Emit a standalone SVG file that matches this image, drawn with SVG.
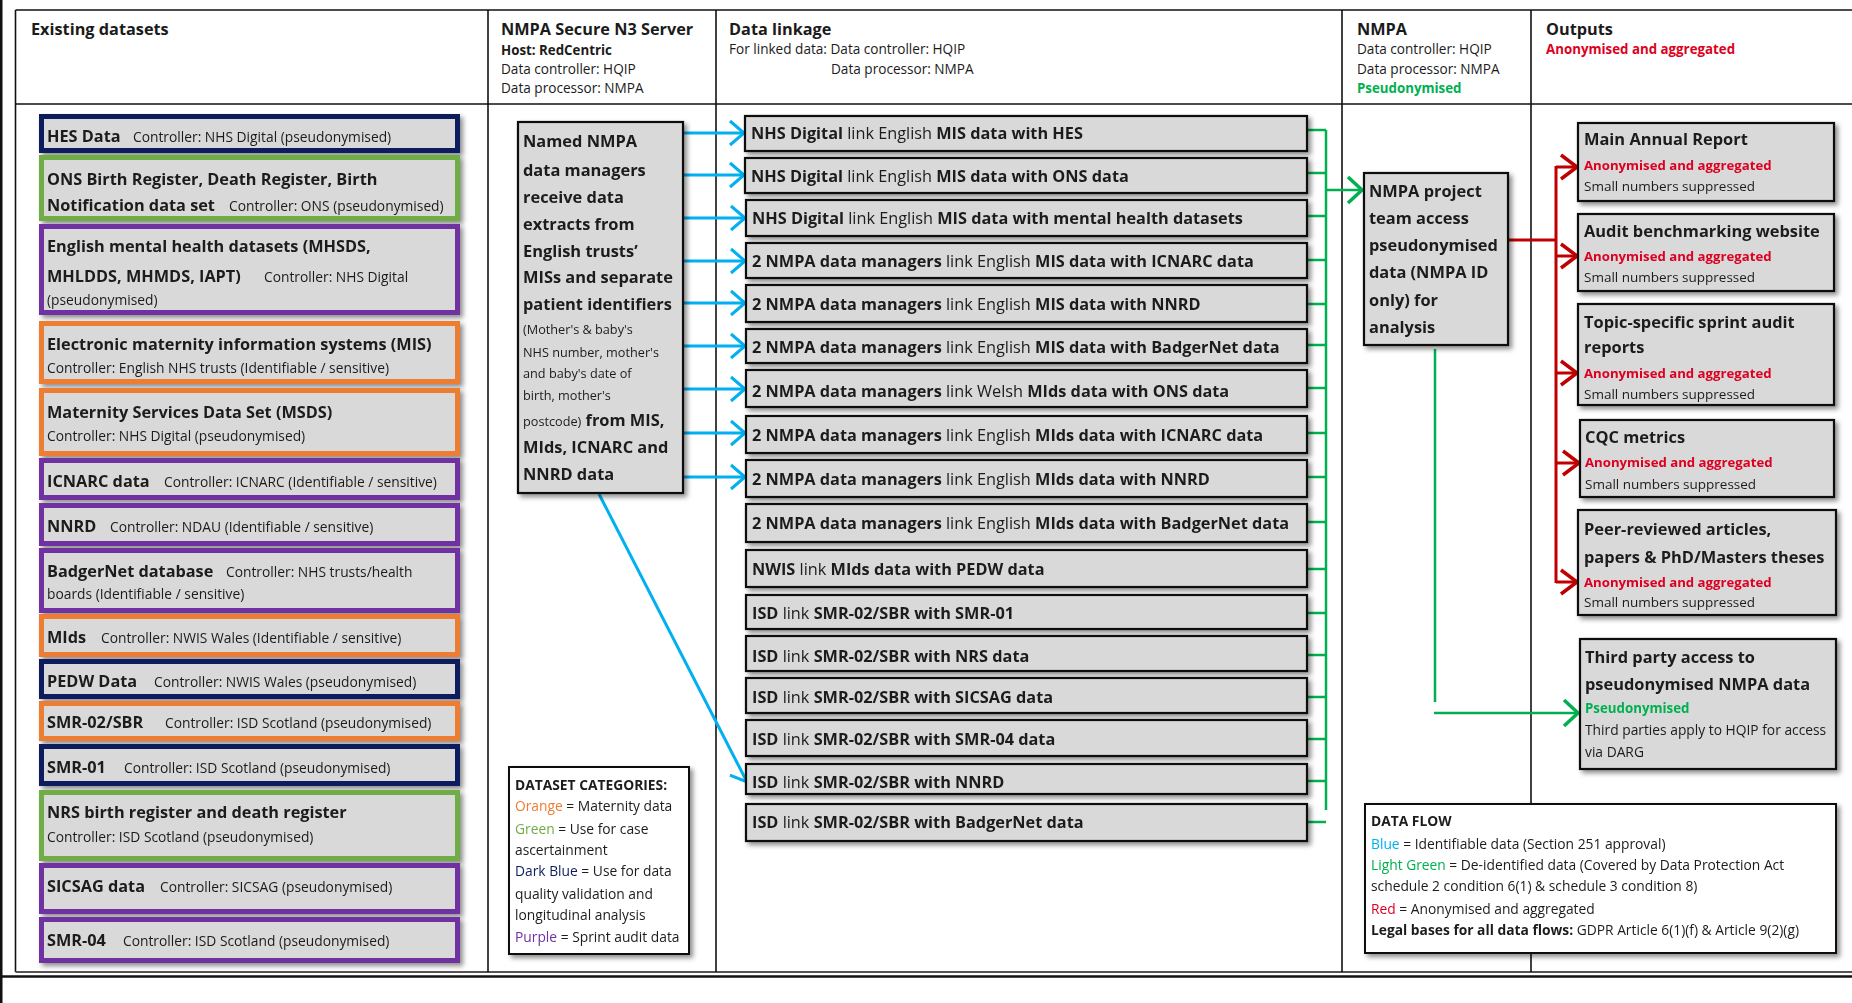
<svg xmlns="http://www.w3.org/2000/svg" width="1852" height="1003" viewBox="0 0 1852 1003">
<style>
text{font-family:"Open Sans","Liberation Sans",sans-serif;fill:#1b1b1b}
.h{font-size:16.3px;font-weight:bold}
.hs{font-size:13.6px}
.hsb{font-size:13.3px;font-weight:bold}
.b{font-weight:bold}
.t{font-size:16.3px;font-weight:bold}
.c{font-size:13.8px;font-weight:normal}
.lk{font-size:16.3px}
.nb{font-size:16.4px;font-weight:bold}
.ns{font-size:12.7px}
.ot{font-size:16.4px;font-weight:bold}
.or{font-size:13.2px;font-weight:bold;fill:#DD0020}
.og{font-size:13.3px;font-weight:bold;fill:#00B050}
.os{font-size:13.5px}
.lg{font-size:13.8px}
.red{fill:#DD0020}
.grn{fill:#00B050}
.ds{fill:#D9D9D9;stroke-width:5}
.nav{stroke:#0B1F5C}
.ogr{stroke:#70AD47}
.pur{stroke:#7030A0}
.orn{stroke:#ED7D31}
.gb{fill:#D9D9D9;stroke:#111;stroke-width:2.2}
.wb{fill:#fff;stroke:#111;stroke-width:2}
.frame{stroke:#111;stroke-width:1.6;fill:none}
.bl{stroke:#00B0F0;stroke-width:3;fill:none}
.gl{stroke:#00B050;stroke-width:2.5;fill:none}
.rl{stroke:#C00000;stroke-width:3;fill:none}
</style>
<defs>
<filter id="sh" x="-10%" y="-10%" width="130%" height="140%">
<feDropShadow dx="3" dy="3" stdDeviation="2.5" flood-color="#000" flood-opacity="0.45"/>
</filter>
<marker id="ab" markerUnits="userSpaceOnUse" markerWidth="20" markerHeight="30" refX="16" refY="14" orient="auto"><path d="M2,2 L16,14 L2,26" fill="none" stroke="#00B0F0" stroke-width="3"/></marker>
<marker id="ag" markerUnits="userSpaceOnUse" markerWidth="20" markerHeight="30" refX="16" refY="14" orient="auto"><path d="M2,1 L16,14 L2,27" fill="none" stroke="#00B050" stroke-width="3.5"/></marker>
<marker id="ar" markerUnits="userSpaceOnUse" markerWidth="22" markerHeight="30" refX="18" refY="14" orient="auto"><path d="M2,2 L18,14 L2,26" fill="none" stroke="#C00000" stroke-width="3.5"/></marker>
</defs>
<rect width="1852" height="1003" fill="#fff"/>

<g id="frame">
<rect x="0" y="0" width="2.5" height="1003" fill="#111"/>
<line class="frame" x1="15.5" y1="10" x2="1852" y2="10"/>
<line class="frame" x1="15.5" y1="10" x2="15.5" y2="972"/>
<line class="frame" x1="15.5" y1="104" x2="1852" y2="104"/>
<line x1="15.5" y1="972" x2="1852" y2="972" stroke="#555" stroke-width="2"/>
<line x1="0" y1="976.5" x2="1852" y2="976.5" stroke="#111" stroke-width="2.5"/>
<line class="frame" x1="488" y1="10" x2="488" y2="972"/>
<line class="frame" x1="716" y1="10" x2="716" y2="972"/>
<line class="frame" x1="1342" y1="10" x2="1342" y2="972"/>
<line class="frame" x1="1531" y1="10" x2="1531" y2="972"/>
</g>

<g id="headers">
<text x="31" y="35" class="h">Existing datasets</text>
<text x="501" y="35" class="h">NMPA Secure N3 Server</text>
<text x="501" y="55" class="hsb">Host: RedCentric</text>
<text x="501" y="74" class="hs">Data controller: HQIP</text>
<text x="501" y="93" class="hs">Data processor: NMPA</text>
<text x="729" y="35" class="h">Data linkage</text>
<text x="729" y="54" class="hs">For linked data: Data controller: HQIP</text>
<text x="831" y="74" class="hs">Data processor: NMPA</text>
<text x="1357" y="35" class="h">NMPA</text>
<text x="1357" y="54" class="hs">Data controller: HQIP</text>
<text x="1357" y="74" class="hs">Data processor: NMPA</text>
<text x="1357" y="93" class="hsb grn">Pseudonymised</text>
<text x="1546" y="35" class="h">Outputs</text>
<text x="1546" y="54" class="hsb red">Anonymised and aggregated</text>
</g>

<g id="connectors">
<line class="bl" x1="683" y1="133" x2="744" y2="133" marker-end="url(#ab)"/>
<line class="bl" x1="683" y1="175" x2="744" y2="175" marker-end="url(#ab)"/>
<line class="bl" x1="683" y1="218" x2="745" y2="218" marker-end="url(#ab)"/>
<line class="bl" x1="683" y1="261" x2="745" y2="261" marker-end="url(#ab)"/>
<line class="bl" x1="683" y1="303" x2="745" y2="303" marker-end="url(#ab)"/>
<line class="bl" x1="683" y1="346" x2="745" y2="346" marker-end="url(#ab)"/>
<line class="bl" x1="683" y1="389" x2="745" y2="389" marker-end="url(#ab)"/>
<line class="bl" x1="683" y1="433" x2="745" y2="433" marker-end="url(#ab)"/>
<line class="bl" x1="683" y1="477" x2="745" y2="477" marker-end="url(#ab)"/>
<line class="bl" x1="599" y1="494" x2="747" y2="782" marker-end="url(#ab)"/>
<path class="gl" d="M1326,130 V810 M1308,130 H1326 M1308,173 H1326 M1308,216 H1326 M1308,260 H1326 M1308,304 H1326 M1308,345 H1326 M1308,388 H1326 M1308,433 H1326 M1308,477 H1326 M1308,522 H1326 M1308,569 H1326 M1308,613 H1326 M1308,655 H1326 M1308,697 H1326 M1308,739 H1326 M1308,781 H1326 M1308,822 H1326"/>
<line class="gl" x1="1326" y1="190" x2="1362" y2="190" stroke-width="3" marker-end="url(#ag)"/>
<path class="rl" d="M1508,240 H1556 M1556,166 V583"/>
<line class="rl" x1="1556" y1="167" x2="1577" y2="167" stroke-width="2.5" marker-end="url(#ar)"/>
<line class="rl" x1="1556" y1="256" x2="1577" y2="256" stroke-width="2.5" marker-end="url(#ar)"/>
<line class="rl" x1="1556" y1="373" x2="1577" y2="373" stroke-width="2.5" marker-end="url(#ar)"/>
<line class="rl" x1="1556" y1="463" x2="1579" y2="463" stroke-width="2.5" marker-end="url(#ar)"/>
<line class="rl" x1="1556" y1="582" x2="1577" y2="582" stroke-width="2.5" marker-end="url(#ar)"/>
<line class="gl" x1="1435" y1="349" x2="1435" y2="702" stroke-width="3"/>
<line class="gl" x1="1434" y1="713" x2="1578" y2="713" stroke-width="3" marker-end="url(#ag)"/>
</g>

<g id="ds-hes" filter="url(#sh)"><rect class="ds nav" x="41.5" y="116.5" width="416" height="34"/>
<text x="47" y="142" class="t">HES Data<tspan x="133" class="c">Controller: NHS Digital (pseudonymised)</tspan></text></g>
<g id="ds-ons" filter="url(#sh)"><rect class="ds ogr" x="41.5" y="157.5" width="416" height="61"/>
<text x="47" y="185" class="t">ONS Birth Register, Death Register, Birth</text>
<text x="47" y="211" class="t">Notification data set<tspan x="229" class="c">Controller: ONS (pseudonymised)</tspan></text></g>
<g id="ds-mh" filter="url(#sh)"><rect class="ds pur" x="41.5" y="226.5" width="416" height="86"/>
<text x="47" y="252" class="t">English mental health datasets (MHSDS,</text>
<text x="47" y="282" class="t">MHLDDS, MHMDS, IAPT)<tspan x="264" class="c">Controller: NHS Digital</tspan></text>
<text x="47" y="305" class="c">(pseudonymised)</text></g>
<g id="ds-mis" filter="url(#sh)"><rect class="ds orn" x="41.5" y="323.5" width="416" height="58"/>
<text x="47" y="350" class="t">Electronic maternity information systems (MIS)</text>
<text x="47" y="373" class="c">Controller: English NHS trusts (Identifiable / sensitive)</text></g>
<g id="ds-msds" filter="url(#sh)"><rect class="ds orn" x="41.5" y="390.5" width="416" height="63"/>
<text x="47" y="418" class="t">Maternity Services Data Set (MSDS)</text>
<text x="47" y="441" class="c">Controller: NHS Digital (pseudonymised)</text></g>
<g id="ds-icnarc" filter="url(#sh)"><rect class="ds pur" x="41.5" y="460.5" width="416" height="37"/>
<text x="47" y="487" class="t">ICNARC data<tspan x="164" class="c">Controller: ICNARC (Identifiable / sensitive)</tspan></text></g>
<g id="ds-nnrd" filter="url(#sh)"><rect class="ds pur" x="41.5" y="505.5" width="416" height="38"/>
<text x="47" y="532" class="t">NNRD<tspan x="110" class="c">Controller: NDAU (Identifiable / sensitive)</tspan></text></g>
<g id="ds-badger" filter="url(#sh)"><rect class="ds pur" x="41.5" y="550.5" width="416" height="60"/>
<text x="47" y="577" class="t">BadgerNet database<tspan x="226" class="c">Controller: NHS trusts/health</tspan></text>
<text x="47" y="599" class="c">boards (Identifiable / sensitive)</text></g>
<g id="ds-mids" filter="url(#sh)"><rect class="ds orn" x="41.5" y="616.5" width="416" height="38"/>
<text x="47" y="643" class="t">MIds<tspan x="101" class="c">Controller: NWIS Wales (Identifiable / sensitive)</tspan></text></g>
<g id="ds-pedw" filter="url(#sh)"><rect class="ds nav" x="41.5" y="661.5" width="416" height="35"/>
<text x="47" y="687" class="t">PEDW Data<tspan x="154" class="c">Controller: NWIS Wales (pseudonymised)</tspan></text></g>
<g id="ds-smr02" filter="url(#sh)"><rect class="ds orn" x="41.5" y="703.5" width="416" height="35"/>
<text x="47" y="728" class="t">SMR-02/SBR<tspan x="165" class="c">Controller: ISD Scotland (pseudonymised)</tspan></text></g>
<g id="ds-smr01" filter="url(#sh)"><rect class="ds nav" x="41.5" y="746.5" width="416" height="37"/>
<text x="47" y="773" class="t">SMR-01<tspan x="124" class="c">Controller: ISD Scotland (pseudonymised)</tspan></text></g>
<g id="ds-nrs" filter="url(#sh)"><rect class="ds ogr" x="41.5" y="792.5" width="416" height="66"/>
<text x="47" y="818" class="t">NRS birth register and death register</text>
<text x="47" y="842" class="c">Controller: ISD Scotland (pseudonymised)</text></g>
<g id="ds-sicsag" filter="url(#sh)"><rect class="ds pur" x="41.5" y="865.5" width="416" height="46"/>
<text x="47" y="892" class="t">SICSAG data<tspan x="160" class="c">Controller: SICSAG (pseudonymised)</tspan></text></g>
<g id="ds-smr04" filter="url(#sh)"><rect class="ds pur" x="41.5" y="919.5" width="416" height="41"/>
<text x="47" y="946" class="t">SMR-04<tspan x="123" class="c">Controller: ISD Scotland (pseudonymised)</tspan></text></g>

<g id="named-managers" filter="url(#sh)"><rect class="gb" x="518" y="122" width="165" height="371"/>
<text x="523" y="147" class="nb">Named NMPA</text>
<text x="523" y="176" class="nb">data managers</text>
<text x="523" y="203" class="nb">receive data</text>
<text x="523" y="230" class="nb">extracts from</text>
<text x="523" y="257" class="nb">English trusts’</text>
<text x="523" y="283" class="nb">MISs and separate</text>
<text x="523" y="310" class="nb">patient identifiers</text>
<text x="523" y="334" class="ns">(Mother's &amp; baby's</text>
<text x="523" y="357" class="ns">NHS number, mother's</text>
<text x="523" y="378" class="ns">and baby's date of</text>
<text x="523" y="400" class="ns">birth, mother's</text>
<text x="523" y="426" class="ns">postcode)<tspan class="nb"> from MIS,</tspan></text>
<text x="523" y="453" class="nb">MIds, ICNARC and</text>
<text x="523" y="480" class="nb">NNRD data</text></g>

<g id="legend-categories" filter="url(#sh)"><rect class="wb" x="509" y="767" width="180" height="187"/>
<text x="515" y="790" class="lg b">DATASET CATEGORIES:</text>
<text x="515" y="811" class="lg"><tspan fill="#ED7D31">Orange</tspan> = Maternity data</text>
<text x="515" y="834" class="lg"><tspan fill="#70AD47">Green</tspan> = Use for case</text>
<text x="515" y="855" class="lg">ascertainment</text>
<text x="515" y="876" class="lg"><tspan fill="#0B1F5C">Dark Blue</tspan> = Use for data</text>
<text x="515" y="899" class="lg">quality validation and</text>
<text x="515" y="920" class="lg">longitudinal analysis</text>
<text x="515" y="942" class="lg"><tspan fill="#7030A0">Purple</tspan> = Sprint audit data</text></g>

<g id="lk1" filter="url(#sh)"><rect class="gb" x="745" y="116" width="562" height="35"/><text x="751" y="139" class="lk"><tspan class="b">NHS Digital</tspan> link English <tspan class="b">MIS data with HES</tspan></text></g>
<g id="lk2" filter="url(#sh)"><rect class="gb" x="745" y="158" width="562" height="35"/><text x="751" y="182" class="lk"><tspan class="b">NHS Digital</tspan> link English <tspan class="b">MIS data with ONS data</tspan></text></g>
<g id="lk3" filter="url(#sh)"><rect class="gb" x="746" y="200" width="561" height="36"/><text x="752" y="224" class="lk"><tspan class="b">NHS Digital</tspan> link English <tspan class="b">MIS data with mental health datasets</tspan></text></g>
<g id="lk4" filter="url(#sh)"><rect class="gb" x="746" y="243" width="561" height="35"/><text x="752" y="267" class="lk"><tspan class="b">2 NMPA data managers</tspan> link English <tspan class="b">MIS data with ICNARC data</tspan></text></g>
<g id="lk5" filter="url(#sh)"><rect class="gb" x="746" y="285" width="561" height="37"/><text x="752" y="310" class="lk"><tspan class="b">2 NMPA data managers</tspan> link English <tspan class="b">MIS data with NNRD</tspan></text></g>
<g id="lk6" filter="url(#sh)"><rect class="gb" x="746" y="329" width="561" height="34"/><text x="752" y="353" class="lk"><tspan class="b">2 NMPA data managers</tspan> link English <tspan class="b">MIS data with BadgerNet data</tspan></text></g>
<g id="lk7" filter="url(#sh)"><rect class="gb" x="746" y="370" width="561" height="37"/><text x="752" y="397" class="lk"><tspan class="b">2 NMPA data managers</tspan> link Welsh <tspan class="b">MIds data with ONS data</tspan></text></g>
<g id="lk8" filter="url(#sh)"><rect class="gb" x="746" y="416" width="561" height="37"/><text x="752" y="441" class="lk"><tspan class="b">2 NMPA data managers</tspan> link English <tspan class="b">MIds data with ICNARC data</tspan></text></g>
<g id="lk9" filter="url(#sh)"><rect class="gb" x="746" y="460" width="561" height="37"/><text x="752" y="485" class="lk"><tspan class="b">2 NMPA data managers</tspan> link English <tspan class="b">MIds data with NNRD</tspan></text></g>
<g id="lk10" filter="url(#sh)"><rect class="gb" x="746" y="504" width="561" height="38"/><text x="752" y="529" class="lk"><tspan class="b">2 NMPA data managers</tspan> link English <tspan class="b">MIds data with BadgerNet data</tspan></text></g>
<g id="lk11" filter="url(#sh)"><rect class="gb" x="746" y="550" width="561" height="37"/><text x="752" y="575" class="lk"><tspan class="b">NWIS</tspan> link <tspan class="b">MIds data with PEDW data</tspan></text></g>
<g id="lk12" filter="url(#sh)"><rect class="gb" x="746" y="595" width="561" height="34"/><text x="752" y="619" class="lk"><tspan class="b">ISD</tspan> link <tspan class="b">SMR-02/SBR with SMR-01</tspan></text></g>
<g id="lk13" filter="url(#sh)"><rect class="gb" x="746" y="636" width="561" height="35"/><text x="752" y="662" class="lk"><tspan class="b">ISD</tspan> link <tspan class="b">SMR-02/SBR with NRS data</tspan></text></g>
<g id="lk14" filter="url(#sh)"><rect class="gb" x="746" y="678" width="561" height="35"/><text x="752" y="703" class="lk"><tspan class="b">ISD</tspan> link <tspan class="b">SMR-02/SBR with SICSAG data</tspan></text></g>
<g id="lk15" filter="url(#sh)"><rect class="gb" x="746" y="720" width="561" height="36"/><text x="752" y="745" class="lk"><tspan class="b">ISD</tspan> link <tspan class="b">SMR-02/SBR with SMR-04 data</tspan></text></g>
<g id="lk16" filter="url(#sh)"><rect class="gb" x="746" y="764" width="561" height="30"/><text x="752" y="788" class="lk"><tspan class="b">ISD</tspan> link <tspan class="b">SMR-02/SBR with NNRD</tspan></text></g>
<g id="lk17" filter="url(#sh)"><rect class="gb" x="746" y="804" width="561" height="37"/><text x="752" y="828" class="lk"><tspan class="b">ISD</tspan> link <tspan class="b">SMR-02/SBR with BadgerNet data</tspan></text></g>

<g id="nmpa-project" filter="url(#sh)"><rect class="gb" x="1364" y="173" width="144" height="172"/>
<text x="1369" y="197" class="ot">NMPA project</text>
<text x="1369" y="224" class="ot">team access</text>
<text x="1369" y="251" class="ot">pseudonymised</text>
<text x="1369" y="278" class="ot">data (NMPA ID</text>
<text x="1369" y="306" class="ot">only) for</text>
<text x="1369" y="333" class="ot">analysis</text></g>

<g id="out-annual" filter="url(#sh)"><rect class="gb" x="1578" y="123" width="256" height="78"/>
<text x="1584" y="145" class="ot">Main Annual Report</text>
<text x="1584" y="170" class="or">Anonymised and aggregated</text>
<text x="1584" y="191" class="os">Small numbers suppressed</text></g>
<g id="out-website" filter="url(#sh)"><rect class="gb" x="1578" y="214" width="256" height="77"/>
<text x="1584" y="237" class="ot">Audit benchmarking website</text>
<text x="1584" y="261" class="or">Anonymised and aggregated</text>
<text x="1584" y="282" class="os">Small numbers suppressed</text></g>
<g id="out-sprint" filter="url(#sh)"><rect class="gb" x="1578" y="304" width="256" height="101"/>
<text x="1584" y="328" class="ot">Topic-specific sprint audit</text>
<text x="1584" y="353" class="ot">reports</text>
<text x="1584" y="378" class="or">Anonymised and aggregated</text>
<text x="1584" y="399" class="os">Small numbers suppressed</text></g>
<g id="out-cqc" filter="url(#sh)"><rect class="gb" x="1580" y="420" width="254" height="77"/>
<text x="1585" y="443" class="ot">CQC metrics</text>
<text x="1585" y="467" class="or">Anonymised and aggregated</text>
<text x="1585" y="489" class="os">Small numbers suppressed</text></g>
<g id="out-papers" filter="url(#sh)"><rect class="gb" x="1578" y="510" width="258" height="105"/>
<text x="1584" y="535" class="ot">Peer-reviewed articles,</text>
<text x="1584" y="563" class="ot">papers &amp; PhD/Masters theses</text>
<text x="1584" y="587" class="or">Anonymised and aggregated</text>
<text x="1584" y="607" class="os">Small numbers suppressed</text></g>
<g id="out-thirdparty" filter="url(#sh)"><rect class="gb" x="1580" y="639" width="256" height="130"/>
<text x="1585" y="663" class="ot">Third party access to</text>
<text x="1585" y="690" class="ot">pseudonymised NMPA data</text>
<text x="1585" y="713" class="og">Pseudonymised</text>
<text x="1585" y="735" class="lg">Third parties apply to HQIP for access</text>
<text x="1585" y="757" class="lg">via DARG</text></g>

<g id="legend-dataflow" filter="url(#sh)"><rect class="wb" x="1365" y="804" width="471" height="149"/>
<text x="1371" y="826" class="lg b">DATA FLOW</text>
<text x="1371" y="849" class="lg"><tspan fill="#00B0F0">Blue</tspan> = Identifiable data (Section 251 approval)</text>
<text x="1371" y="870" class="lg"><tspan fill="#00B050">Light Green</tspan> = De-identified data (Covered by Data Protection Act</text>
<text x="1371" y="891" class="lg">schedule 2 condition 6(1) &amp; schedule 3 condition 8)</text>
<text x="1371" y="914" class="lg"><tspan fill="#DD0020">Red</tspan> = Anonymised and aggregated</text>
<text x="1371" y="935" class="lg"><tspan class="b">Legal bases for all data flows:</tspan> GDPR Article 6(1)(f) &amp; Article 9(2)(g)</text></g>
</svg>
